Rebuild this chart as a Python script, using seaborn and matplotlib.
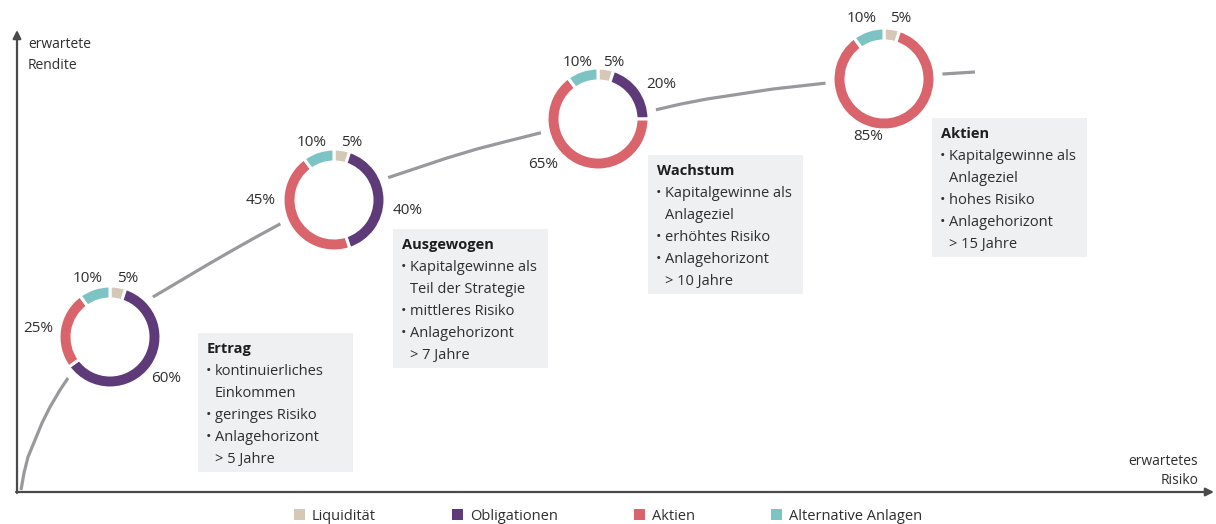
import matplotlib
matplotlib.use('Agg')
import matplotlib.pyplot as plt
from matplotlib.patches import Rectangle, Circle, Patch
import seaborn as sns

# asset classes, in clockwise order starting at 12 o'clock
classes = ['Liquidität', 'Obligationen', 'Aktien', 'Alternative Anlagen']
class_colors = ['#d5c8b7', '#5e3b78', '#da646b', '#7cc3c3']

# portfolio mixes (%)
portfolios = ['Ertrag', 'Ausgewogen', 'Wachstum', 'Aktien']
liquiditaet = [5, 5, 5, 5]
obligationen = [60, 40, 20, 0]
aktien = [25, 45, 65, 85]
alternative = [10, 10, 10, 10]

bullets = [
    ['kontinuierliches\nEinkommen', 'geringes Risiko', 'Anlagehorizont\n> 5 Jahre'],
    ['Kapitalgewinne als\nTeil der Strategie', 'mittleres Risiko', 'Anlagehorizont\n> 7 Jahre'],
    ['Kapitalgewinne als\nAnlageziel', 'erhöhtes Risiko', 'Anlagehorizont\n> 10 Jahre'],
    ['Kapitalgewinne als\nAnlageziel', 'hohes Risiko', 'Anlagehorizont\n> 15 Jahre'],
]

# risk / return curve (pixel coords)
curve_x = [21, 24, 28, 35, 42, 50, 60, 68, 110,
           153, 180, 207, 233, 258, 280, 334,
           387, 417, 447, 477, 508, 540, 598,
           655, 681, 707, 740, 773, 800, 827, 884, 943, 975]
curve_y = [490, 473, 457, 440, 423, 407, 390, 378, 337,
           297, 281, 265, 250, 236, 224, 200,
           178, 168, 158, 149, 141, 133, 119,
           110, 104, 99, 94, 89, 86, 83, 79, 74, 72]

# layout (pixels)
W, H = 1216, 524
centers = [(110, 337), (334, 200), (598, 119), (884, 79)]
label_offsets = [
    [(18, -59), (56, 41), (-72, -8), (-22, -59)],
    [(18, -57), (74, 10), (-73, 0), (-22, -57)],
    [(16, -57), (63, -35), (-55, 46), (-20, -57)],
    [(17, -61), None, (-16, 58), (-22, -61)],
]
boxes = [(198, 333), (393, 229), (648, 155), (932, 118)]
box_w, box_h = 155, 139
R_OUT, RING = 51, 13
txt_color = '#2e2e2e'

sns.set_theme(style='white')
plt.rcParams['font.family'] = ['Open Sans', 'DejaVu Sans']

fig = plt.figure(figsize=(W / 100, H / 100), dpi=100)
ax = fig.add_axes([0, 0, 1, 1])

# curve
sns.lineplot(x=curve_x, y=curve_y, sort=False, color='#98999c', linewidth=2.3,
             ax=ax, zorder=1, solid_capstyle='butt', solid_joinstyle='round')

mixes = list(zip(liquiditaet, obligationen, aktien, alternative))
for i, (mix, (cx, cy)) in enumerate(zip(mixes, centers)):
    # white halo so the curve stops short of the ring
    ax.add_patch(Circle((cx, cy), 58, color='white', zorder=2))
    vals = [v for v in mix if v > 0]
    cols = [c for v, c in zip(mix, class_colors) if v > 0]
    ax.pie(vals, colors=cols, startangle=-90, counterclock=True, radius=R_OUT,
           center=(cx, cy), frame=True,
           wedgeprops=dict(width=RING, edgecolor='white', linewidth=2.2, zorder=4))
    for v, off in zip(mix, label_offsets[i]):
        if v == 0 or off is None:
            continue
        ax.text(cx + off[0], cy + off[1], f'{v}%', ha='center', va='center',
                fontsize=11, color=txt_color, zorder=5)

# description boxes
for (bx, by), title, items in zip(boxes, portfolios, bullets):
    ax.add_patch(Rectangle((bx, by), box_w, box_h, facecolor='#eef0f1',
                           edgecolor='none', zorder=3))
    ax.text(bx + 9, by + 20, title, fontsize=10.5, fontweight='bold',
            color='#1e1e1e', va='baseline', zorder=5)
    y = by + 42
    for item in items:
        ax.text(bx + 8, y, '•', fontsize=10.5, color=txt_color, va='baseline', zorder=5)
        for line in item.split('\n'):
            ax.text(bx + 17, y, line, fontsize=10.5, color=txt_color,
                    va='baseline', zorder=5)
            y += 22

# axes arrows
arrow = dict(arrowstyle='-|>', color='#4a4a4a', lw=1.6, mutation_scale=12,
             shrinkA=0, shrinkB=0)
ax.annotate('', xy=(17, 30), xytext=(17, 493), arrowprops=arrow)
ax.annotate('', xy=(1214, 492), xytext=(16, 492), arrowprops=arrow)
ax.text(28, 55, 'erwartete\nRendite', fontsize=10, color=txt_color,
        va='center', ha='left', linespacing=1.55)
ax.text(1198, 471, 'erwartetes\nRisiko', fontsize=10, color=txt_color,
        va='center', ha='right', multialignment='right', linespacing=1.45)

ax.set_xlim(0, W)
ax.set_ylim(H, 0)
ax.set_aspect('auto')
ax.axis('off')

handles = [Patch(facecolor=c, edgecolor='none', label=l)
           for l, c in zip(classes, class_colors)]
fig.legend(handles=handles, loc='center', bbox_to_anchor=(0.5, 1 - 516 / H),
           ncol=4, frameon=False, fontsize=10.5, handlelength=0.75,
           handleheight=0.75, handletextpad=0.5, columnspacing=5.2,
           labelcolor=txt_color)

fig.savefig('out.png', dpi=100)
